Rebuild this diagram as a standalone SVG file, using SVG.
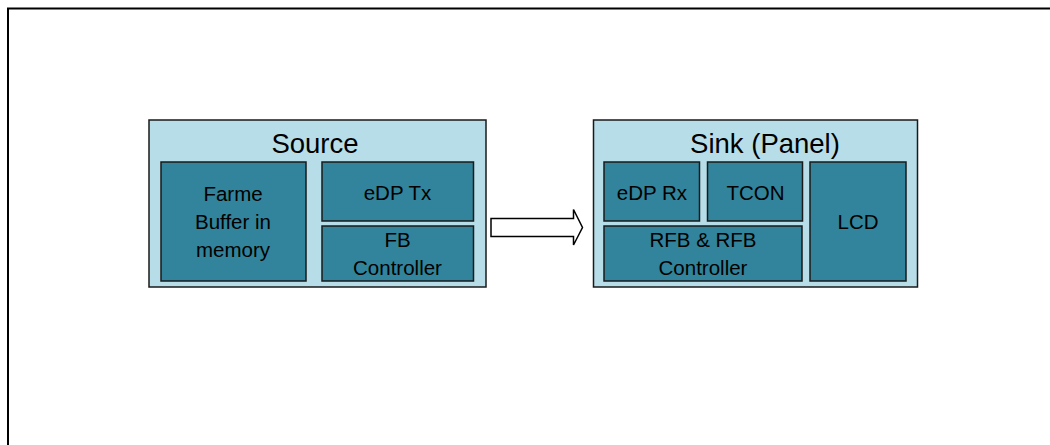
<svg xmlns="http://www.w3.org/2000/svg" width="1050" height="445" viewBox="0 0 1050 445">
<style>
.outer{fill:#B7DEE8;stroke:#1a1a1a;stroke-width:1.5}
.inner{fill:#31849B;stroke:#1a1a1a;stroke-width:1.5}
.t{font-family:"Liberation Sans",Arial,sans-serif;text-anchor:middle;fill:#000}
.big{font-size:27.5px}
.sm{font-size:20.5px}
</style>
<rect x="0" y="0" width="1050" height="445" fill="#fff"/>
<path d="M8,445 V8.5 H1050" fill="none" stroke="#000" stroke-width="2"/>
<g id="source">
<rect class="outer" x="149" y="120" width="337" height="167"/>
<text class="t big" x="315" y="153">Source</text>
</g>
<g id="framebuffer">
<rect class="inner" x="161" y="162" width="145" height="119"/>
<text class="t sm" x="233" y="201">Farme</text>
<text class="t sm" x="233" y="229">Buffer in</text>
<text class="t sm" x="233" y="257">memory</text>
</g>
<g id="edptx">
<rect class="inner" x="322" y="162" width="151.5" height="59"/>
<text class="t sm" x="397.5" y="200">eDP Tx</text>
</g>
<g id="fbcontroller">
<rect class="inner" x="322" y="226" width="151.5" height="55"/>
<text class="t sm" x="397.5" y="247">FB</text>
<text class="t sm" x="397.5" y="275">Controller</text>
</g>
<g id="sink">
<rect class="outer" x="593.5" y="120" width="324" height="167"/>
<text class="t big" x="765" y="153">Sink (Panel)</text>
</g>
<g id="edprx">
<rect class="inner" x="604" y="162" width="95.5" height="59"/>
<text class="t sm" x="652" y="200">eDP Rx</text>
</g>
<g id="tcon">
<rect class="inner" x="707.5" y="162" width="95" height="59"/>
<text class="t sm" x="755.5" y="200">TCON</text>
</g>
<g id="rfb">
<rect class="inner" x="604" y="226" width="198" height="55"/>
<text class="t sm" x="703" y="247">RFB &amp; RFB</text>
<text class="t sm" x="703" y="275">Controller</text>
</g>
<g id="lcd">
<rect class="inner" x="810" y="162" width="96" height="119"/>
<text class="t sm" x="858" y="229">LCD</text>
</g>
<g id="connectors">
<path d="M491,218.5 H573.5 V209.5 L582.5,227.5 L573.5,245 V236.5 H491 Z" fill="#fff" stroke="#000" stroke-width="1.5" stroke-linejoin="miter"/>
</g>
</svg>
